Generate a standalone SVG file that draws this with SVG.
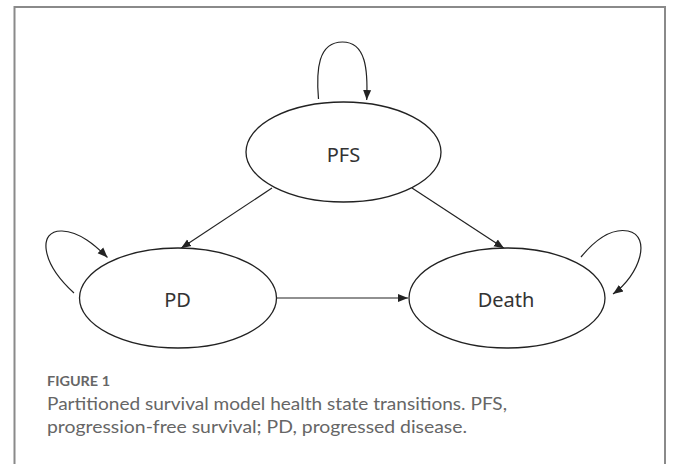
<svg xmlns="http://www.w3.org/2000/svg" width="679" height="464" viewBox="0 0 679 464">
<style>
.node{fill:#fff;stroke:#222;stroke-width:1.3}
.lbl{font-family:"Noto Sans","Open Sans",sans-serif;font-size:20px;fill:#333;text-anchor:middle}
.edge{fill:none;stroke:#222;stroke-width:1.2;marker-end:url(#ah)}
.cap{font-family:Lato,"Open Sans",sans-serif;fill:#666}
</style>
<defs>
<marker id="ah" markerUnits="userSpaceOnUse" markerWidth="10" markerHeight="10" viewBox="0 0 10 10" refX="10" refY="5" orient="auto">
<path d="M0,1 L10,5 L0,9 Z" fill="#222"/>
</marker>
</defs>
<rect x="0" y="0" width="679" height="464" fill="#fff"/>
<rect x="14.5" y="7" width="650.5" height="470" fill="none" stroke="#8a8a8a" stroke-width="2"/>
<g id="connectors">
<path class="edge" d="M318.5,99 C316,70 318,42 342.5,42 C366,42 368,70 366.7,100"/>
<path class="edge" d="M272,188 L181,248.3"/>
<path class="edge" d="M412,188 L504,248.3"/>
<path class="edge" d="M277,298 L408,298"/>
<path class="edge" d="M74,293 C40,262 38,230 62,231 C80,232 95,245 107.5,257.5"/>
<path class="edge" d="M581,257 C595,240 612,228 628,231 C652,236 640,275 613,294"/>
</g>
<g id="node-pfs">
<ellipse class="node" cx="343.5" cy="152" rx="97.5" ry="50"/>
<text class="lbl" x="343.5" y="161.5">PFS</text>
</g>
<g id="node-pd">
<ellipse class="node" cx="178" cy="298" rx="98.5" ry="50"/>
<text class="lbl" x="177.5" y="306.5">PD</text>
</g>
<g id="node-death">
<ellipse class="node" cx="507" cy="298" rx="98" ry="50"/>
<text class="lbl" x="506" y="306.5">Death</text>
</g>
<g id="caption">
<text class="cap" x="47" y="386" font-size="13.5" font-weight="bold" fill="#555" textLength="63" lengthAdjust="spacingAndGlyphs">FIGURE 1</text>
<text class="cap" x="47" y="409.5" font-size="17" textLength="460" lengthAdjust="spacingAndGlyphs">Partitioned survival model health state transitions. PFS,</text>
<text class="cap" x="47" y="433" font-size="17" textLength="420" lengthAdjust="spacingAndGlyphs">progression-free survival; PD, progressed disease.</text>
</g>
</svg>
